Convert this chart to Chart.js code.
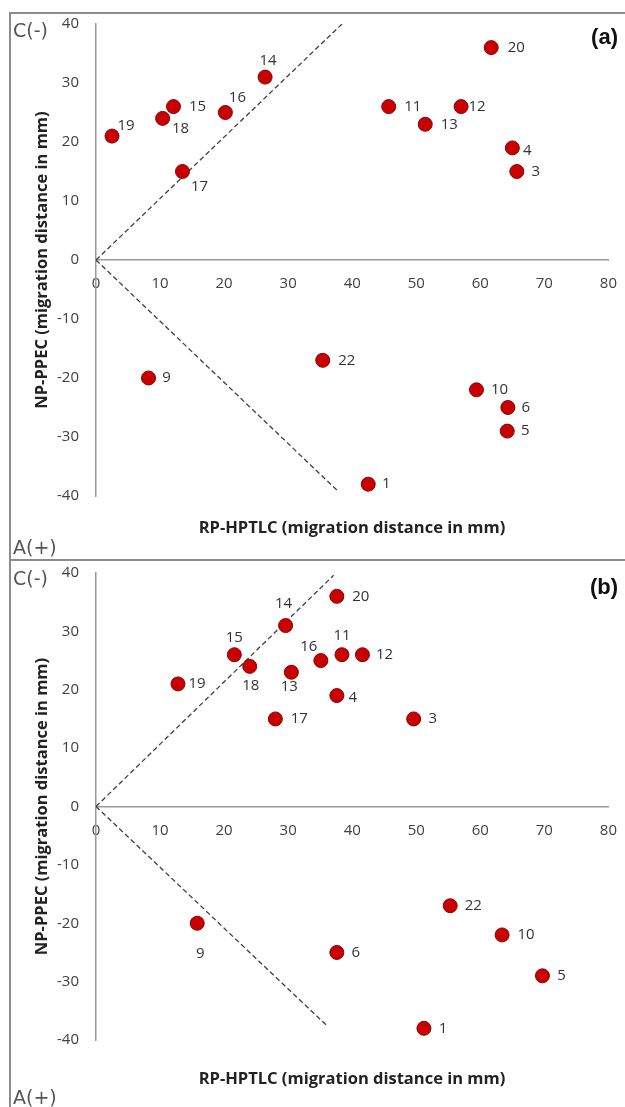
<!DOCTYPE html>
<html><head><meta charset="utf-8">
<script src="https://cdn.jsdelivr.net/npm/chart.js@4.4.1/dist/chart.umd.min.js"></script>
<style>
html,body{margin:0;padding:0;background:#fff;width:625px;height:1107px;overflow:hidden;}
#wrap{position:relative;width:625px;height:1107px;overflow:hidden;}
.hline{position:absolute;left:9px;width:616px;height:2px;background:#8c8c8c;}
.vline{position:absolute;left:9px;top:12px;width:2px;height:1095px;background:#8c8c8c;}
.cv{position:absolute;left:11px;}
.corner{position:absolute;left:13px;font-family:'DejaVu Sans',sans-serif;font-size:19px;color:#555;line-height:20px;}
.tag{position:absolute;right:7px;font-family:'Liberation Sans',Arial,sans-serif;font-weight:bold;font-size:22px;line-height:26px;color:#111;}
.xtitle{position:absolute;left:96px;width:512px;text-align:center;font-family:'Open Sans',sans-serif;font-weight:bold;font-size:16.5px;line-height:22px;color:#222;}
</style></head>
<body><div id="wrap">
<div class="hline" style="top:12px"></div>
<div class="hline" style="top:559px"></div>
<div class="vline"></div>
<canvas id="ca" class="cv" style="top:-2px" width="621" height="561"></canvas>
<canvas id="cb" class="cv" style="top:547px" width="621" height="560"></canvas>
<div class="corner" style="top:20px">C(-)</div>
<div class="corner" style="top:537px">A(+)</div>
<div class="corner" style="top:568px">C(-)</div>
<div class="corner" style="top:1087px">A(+)</div>
<div class="tag" style="top:24px">(a)</div>
<div class="tag" style="top:574px">(b)</div>
<div class="xtitle" style="top:516px">RP-HPTLC (migration distance in mm)</div>
<div class="xtitle" style="top:1067px">RP-HPTLC (migration distance in mm)</div>
</div>
<script>
// ---- data ----
const compounds = ['1','3','4','5','6','9','10','11','12','13','14','15','16','17','18','19','20','22'];
// panel (a)
const rpA = [42.5, 65.7, 65.0, 64.2, 64.3, 8.2, 59.4, 45.7, 57.0, 51.4, 26.4, 12.1, 20.2, 13.5, 10.4, 2.5, 61.7, 35.4];
const npA = [-38, 15, 19, -29, -25, -20, -22, 26, 26, 23, 31, 26, 25, 15, 24, 21, 36, -17];
// panel (b)
const rpB = [51.2, 49.6, 37.6, 69.7, 37.6, 15.8, 63.4, 38.4, 41.6, 30.5, 29.6, 21.6, 35.1, 28.0, 24.0, 12.8, 37.6, 55.3];
const npB = [-38, 15, 19, -29, -25, -20, -22, 26, 26, 23, 31, 26, 25, 15, 24, 21, 36, -17];
// dashed guide lines (x, y end points)
const guideUpA_x = [0, 38.4], guideUpA_y = [0, 40];
const guideLoA_x = [0, 37.6], guideLoA_y = [0, -39];
const guideUpB_x = [0, 37.1], guideUpB_y = [0, 39.6];
const guideLoB_x = [0, 35.9], guideLoB_y = [0, -37.4];
// tick labels
const xTicks = [0, 10, 20, 30, 40, 50, 60, 70, 80];
const yTicks = [-40, -30, -20, -10, 0, 10, 20, 30, 40];

// ---- label placement (style) ----
const labelOffA = [[18,0],[19,0],[15,3],[18,0],[18,0],[18,0],[23,0],[24,0],[16,0],[24,0],[3,-16],[24,0],[12,-15],[17,15],[18,10],[14,-10],[25,0],[24,0]];
const labelOffB = [[19,0],[19,0],[16,2],[19,0],[19,0],[3,30],[24,0],[0,-19],[22,0],[-2,14],[-2,-22],[0,-17],[-12,-14],[24,0],[1,19],[19,0],[24,0],[23,0]];

const pts = (xs, ys) => xs.map((x, i) => ({x, y: ys[i]}));

const pointLabels = {
  id: 'pointLabels',
  afterDatasetsDraw(chart, args, opts) {
    const meta = chart.getDatasetMeta(0);
    const ctx = chart.ctx;
    ctx.save();
    ctx.font = "15px 'Open Sans', sans-serif";
    ctx.fillStyle = '#333';
    ctx.textAlign = 'center';
    ctx.textBaseline = 'middle';
    meta.data.forEach((el, i) => {
      const o = opts.offsets[i];
      ctx.fillText(opts.labels[i], el.x + o[0], el.y + o[1]);
    });
    ctx.restore();
  }
};

function makeChart(id, xs, ys, up, lo, offs, pad) {
  const guide = (d) => ({
    type: 'scatter', data: d, showLine: true, borderColor: '#404040', borderWidth: 1.3,
    borderDash: [5, 3], pointRadius: 0, fill: false
  });
  return new Chart(document.getElementById(id), {
    type: 'scatter',
    data: {
      datasets: [
        { data: pts(xs, ys), backgroundColor: '#c80000', borderColor: '#8a0000', borderWidth: 1, pointRadius: 7 },
        guide(pts(up[0], up[1])),
        guide(pts(lo[0], lo[1]))
      ]
    },
    options: {
      responsive: false,
      animation: false,
      events: [],
      layout: { padding: pad },
      plugins: { legend: { display: false }, tooltip: { enabled: false },
        pointLabels: { labels: compounds, offsets: offs } },
      scales: {
        x: {
          type: 'linear', position: { y: 0 }, min: 0, max: 80,
          afterBuildTicks: (s) => { s.ticks = xTicks.map(v => ({value: v})); },
          grid: { display: false, drawTicks: false, tickLength: 0 },
          border: { display: true, color: '#9a9a9a', width: 1.5 },
          ticks: { padding: 15, color: '#404040', font: { size: 15, family: "'Open Sans', sans-serif" }, maxRotation: 0 }
        },
        y: {
          type: 'linear', position: 'left', min: -40, max: 40,
          afterBuildTicks: (s) => { s.ticks = yTicks.map(v => ({value: v})); },
          afterFit: (s) => { s.width = 64; },
          grid: { display: false, drawTicks: false, tickLength: 0 },
          border: { display: true, color: '#9a9a9a', width: 1.5 },
          ticks: { padding: 17, color: '#404040', font: { size: 15, family: "'Open Sans', sans-serif" } },
          title: { display: true, text: 'NP-PPEC (migration distance in mm)', color: '#222',
            padding: 0, font: { size: 16.5, weight: 'bold', family: "'Open Sans', sans-serif" } }
        }
      }
    },
    plugins: [pointLabels]
  });
}

makeChart('ca', rpA, npA, [guideUpA_x, guideUpA_y], [guideLoA_x, guideLoA_y], labelOffA,
  { left: 21, top: 0, right: 0, bottom: 63 });
makeChart('cb', rpB, npB, [guideUpB_x, guideUpB_y], [guideLoB_x, guideLoB_y], labelOffB,
  { left: 21, top: 0, right: 0, bottom: 67 });
</script>
</body></html>
